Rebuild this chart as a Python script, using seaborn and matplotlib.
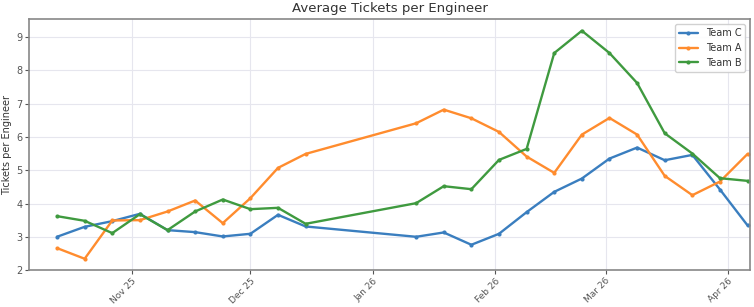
import pandas as pd
import numpy as np
import matplotlib.pyplot as plt
import matplotlib.dates as mdates
import seaborn as sns

# Weekly snapshots (three-week gap over the holidays)
dates = [
    '2025-10-13', '2025-10-20', '2025-10-27', '2025-11-03', '2025-11-10',
    '2025-11-17', '2025-11-24', '2025-12-01', '2025-12-08', '2025-12-15',
    '2026-01-12', '2026-01-19', '2026-01-26', '2026-02-02', '2026-02-09',
    '2026-02-16', '2026-02-23', '2026-03-02', '2026-03-09', '2026-03-16',
    '2026-03-23', '2026-03-30', '2026-04-06',
]
team_c = [3.00, 3.30, 3.47, 3.69, 3.20, 3.14, 3.01, 3.09, 3.66, 3.31,
          3.00, 3.13, 2.76, 3.09, 3.74, 4.35, 4.75, 5.35, 5.68, 5.30, 5.46, 4.42, 3.34]
team_a = [2.66, 2.34, 3.49, 3.50, 3.76, 4.09, 3.41, 4.16, 5.07, 5.49,
          6.41, 6.82, 6.56, 6.15, 5.41, 4.92, 6.07, 6.57, 6.07, 4.83, 4.25, 4.66, 5.49]
team_b = [3.62, 3.48, 3.11, 3.68, 3.20, 3.76, 4.12, 3.83, 3.87, 3.39,
          4.01, 4.52, 4.43, 5.31, 5.64, 8.52, 9.19, 8.52, 7.62, 6.11, 5.50, 4.76, 4.68]

teams = ['Team C', 'Team A', 'Team B']
colors = {'Team C': '#3a7ebf', 'Team A': '#ff8c2e', 'Team B': '#3f9a3f'}

df = pd.DataFrame({
    'Week': pd.to_datetime(dates * 3),
    'Tickets': team_c + team_a + team_b,
    'Team': np.repeat(teams, len(dates)),
})

sns.set_style('ticks')
plt.rcParams['font.family'] = ['DejaVu Sans']
plt.rcParams['text.color'] = '#333333'
plt.rcParams['axes.labelcolor'] = '#333333'
plt.rcParams['xtick.color'] = '#555555'
plt.rcParams['ytick.color'] = '#555555'

fig, ax = plt.subplots(figsize=(7.54, 3.07), dpi=100)
fig.subplots_adjust(left=0.039, right=0.995, top=0.937, bottom=0.12)

sns.lineplot(
    data=df, x='Week', y='Tickets', hue='Team', hue_order=teams,
    palette=colors, marker='o', markersize=3, markeredgewidth=0,
    linewidth=1.7, ax=ax
)

ax.set_title('Average Tickets per Engineer', fontsize=9.5, pad=5)
ax.set_xlabel('')
ax.set_ylabel('Tickets per Engineer', fontsize=7, labelpad=3)
ax.set_xlim(pd.Timestamp('2025-10-06'), pd.Timestamp('2026-04-06 16:00'))
ax.xaxis.set_major_locator(mdates.MonthLocator())
ax.xaxis.set_major_formatter(mdates.DateFormatter('%b %y'))
plt.setp(ax.get_xticklabels(), rotation=45, ha='right', rotation_mode='anchor')
ax.tick_params(axis='x', labelsize=6.5, length=3, pad=1.5)
ax.tick_params(axis='y', labelsize=7, length=3, pad=2)
ax.grid(True, color='#e6e6ee', linewidth=0.8)
for s in ax.spines.values():
    s.set_color('#888888')
    s.set_linewidth(1.2)

ax.legend(loc='upper right', fontsize=7, frameon=True, framealpha=0.9)

plt.savefig('out.png', dpi=100)
